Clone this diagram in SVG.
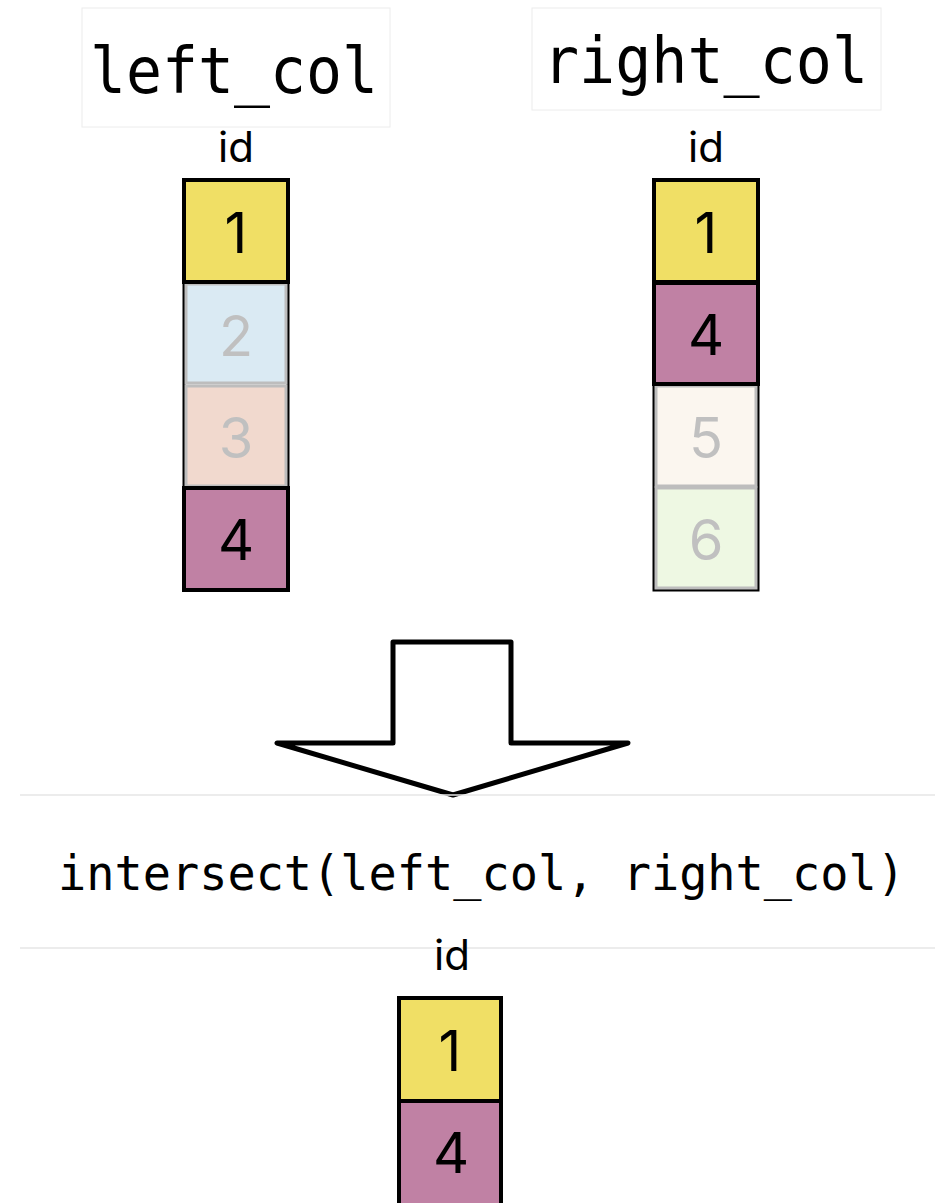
<svg xmlns="http://www.w3.org/2000/svg" width="935" height="1203" viewBox="0 0 935 1203">
  <style>
    .title { font-family: "DejaVu Sans Mono", "Liberation Mono", monospace; font-size: 64px; fill: #000; }
    .expr { font-family: "DejaVu Sans Mono", "Liberation Mono", monospace; font-size: 48px; fill: #000; }
    .hdr { font-family: Inter, "Liberation Sans", sans-serif; font-size: 42px; fill: #000; text-anchor: middle; }
    .num { font-family: Inter, "Liberation Sans", sans-serif; font-size: 56px; text-anchor: middle; }
    .on { stroke: #000; stroke-width: 4; }
    .off { stroke: #bdbdbd; stroke-width: 3; }
    .num.on { fill: #000; stroke: none; }
    .num.off { fill: #c0c0c0; stroke: none; }
    .frame { fill: none; stroke: #000; stroke-width: 3; }
    .label-box { fill: #fff; stroke: #ececec; stroke-width: 1; }
    .rule { stroke: #e6e6e6; stroke-width: 1.5; }
    .c1 { fill: #f0df65; }
    .c2 { fill: #daeaf3; }
    .c3 { fill: #f1d9ce; }
    .c4 { fill: #c081a4; }
    .c5 { fill: #fbf6ef; }
    .c6 { fill: #eef8e3; }
  </style>

  <rect width="935" height="1203" fill="#fff"/>

  <!-- left table -->
  <g id="left_col">
    <rect class="label-box" x="82" y="8" width="308" height="119"/>
    <text class="title" x="90" y="93" textLength="288" lengthAdjust="spacingAndGlyphs">left_col</text>
    <text class="hdr" x="236" y="162">id</text>
    <rect class="frame" x="184" y="180" width="104" height="410"/>
    <rect class="c2 off" x="186" y="284" width="100" height="99"/>
    <text class="num off" x="236" y="356">2</text>
    <rect class="c3 off" x="186" y="386" width="100" height="100"/>
    <text class="num off" x="236" y="458">3</text>
    <rect class="c1 on" x="184" y="180" width="104" height="102"/>
    <text class="num on" x="236" y="253">1</text>
    <rect class="c4 on" x="184" y="488" width="104" height="102"/>
    <text class="num on" x="236" y="560">4</text>
  </g>

  <!-- right table -->
  <g id="right_col">
    <rect class="label-box" x="532" y="8" width="349" height="102"/>
    <text class="title" x="543" y="83" textLength="325" lengthAdjust="spacingAndGlyphs">right_col</text>
    <text class="hdr" x="706" y="162">id</text>
    <rect class="frame" x="654" y="180" width="104" height="410"/>
    <rect class="c5 off" x="656" y="386" width="100" height="100"/>
    <text class="num off" x="706" y="458">5</text>
    <rect class="c6 off" x="656" y="488" width="100" height="100"/>
    <text class="num off" x="706" y="560">6</text>
    <rect class="c1 on" x="654" y="180" width="104" height="102"/>
    <text class="num on" x="706" y="253">1</text>
    <rect class="c4 on" x="654" y="283" width="104" height="101"/>
    <text class="num on" x="706" y="355">4</text>
  </g>

  <!-- downward arrow between inputs and result -->
  <g id="connectors">
    <polygon points="393,642 511,642 511,743 628,743 453,795 277,743 393,743" fill="#fff" stroke="#000" stroke-width="5" stroke-linejoin="round"/>
  </g>

  <!-- operation caption -->
  <g id="operation">
    <line class="rule" x1="20" y1="795" x2="935" y2="795"/>
    <text class="expr" x="58" y="890" textLength="847" lengthAdjust="spacingAndGlyphs">intersect(left_col, right_col)</text>
    <line class="rule" x1="20" y1="948" x2="935" y2="948"/>
  </g>

  <!-- result table -->
  <g id="result">
    <text class="hdr" x="452" y="970">id</text>
    <rect class="c1 on" x="399" y="998" width="102" height="103"/>
    <text class="num on" x="450" y="1071">1</text>
    <rect class="c4 on" x="399" y="1101" width="102" height="104"/>
    <text class="num on" x="451" y="1173">4</text>
  </g>
</svg>
